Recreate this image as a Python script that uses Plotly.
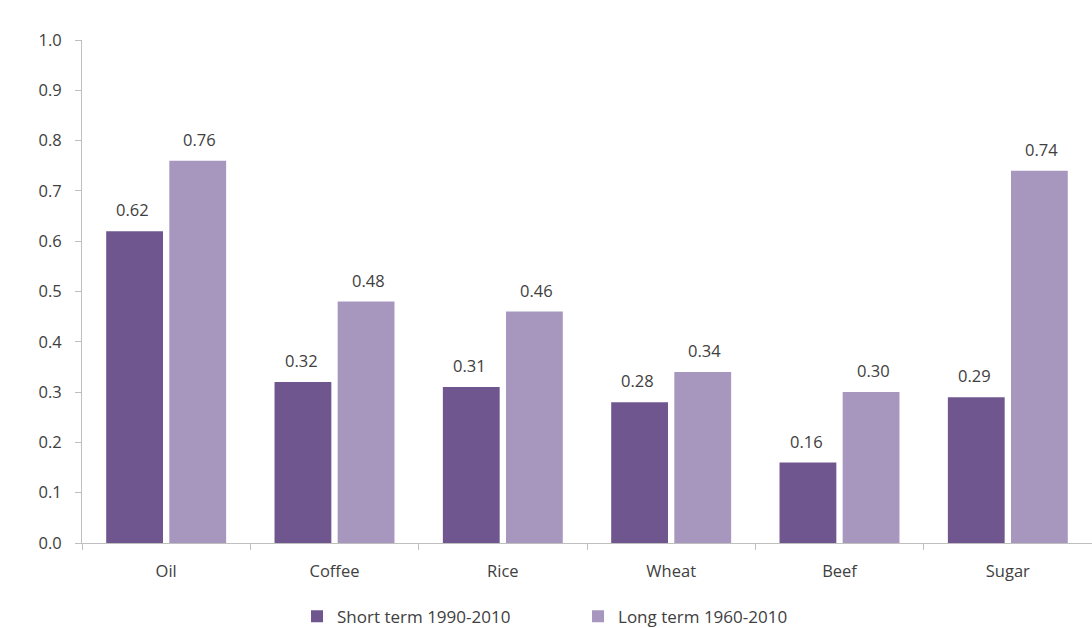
import plotly.graph_objects as go

categories = ["Oil", "Coffee", "Rice", "Wheat", "Beef", "Sugar"]
short_term = [0.62, 0.32, 0.31, 0.28, 0.16, 0.29]
long_term = [0.76, 0.48, 0.46, 0.34, 0.30, 0.74]
series_names = ["Short term 1990-2010", "Long term 1960-2010"]
y_ticks = [0.0, 0.1, 0.2, 0.3, 0.4, 0.5, 0.6, 0.7, 0.8, 0.9, 1.0]

dark = "#6f568f"
light = "#a797bf"
txt = "#404040"
FONT = "'Open Sans', sans-serif"
FS = 16.5

fig = go.Figure()
fig.add_trace(go.Bar(x=categories, y=short_term, name=series_names[0],
                     marker=dict(color=dark, line=dict(width=0))))
fig.add_trace(go.Bar(x=categories, y=long_term, name=series_names[1],
                     marker=dict(color=light, line=dict(width=0))))

annotations = []
for vals, shift in ((short_term, -33.5), (long_term, 33.5)):
    for c, v in zip(categories, vals):
        annotations.append(dict(x=c, y=v, xref="x", yref="y", text=f"{v:.2f}",
                                showarrow=False, yanchor="bottom", xshift=shift, yshift=8,
                                font=dict(family=FONT, size=FS, color=txt)))

fig.update_layout(
    width=1092, height=628,
    margin=dict(l=82, r=0, t=40, b=85),
    paper_bgcolor="white", plot_bgcolor="white",
    barmode="group", bargap=0.25, bargroupgap=0.1,
    font=dict(family=FONT, size=FS, color=txt),
    annotations=annotations,
    showlegend=True,
    legend=dict(orientation="h", xref="container", yref="container",
                x=0.272, y=0.018, xanchor="left", yanchor="middle",
                entrywidth=236, entrywidthmode="pixels",
                font=dict(family=FONT, size=17, color=txt), itemsizing="constant",
                traceorder="normal"),
    xaxis=dict(type="category", showline=True, linecolor="#bfbfbf", linewidth=1,
               ticks="outside", tickson="boundaries", ticklen=6, tickcolor="#bfbfbf",
               showgrid=False, tickfont=dict(family=FONT, size=FS, color=txt),
               ticklabelstandoff=13),
    yaxis=dict(range=[0, 1.0], tickvals=y_ticks, tickformat=".1f", showline=True,
               linecolor="#bfbfbf", linewidth=1, ticks="outside", ticklen=6,
               tickcolor="#bfbfbf", showgrid=False, zeroline=False,
               tickfont=dict(family=FONT, size=FS, color=txt), ticklabelstandoff=10),
)

fig.write_html("out.html")
